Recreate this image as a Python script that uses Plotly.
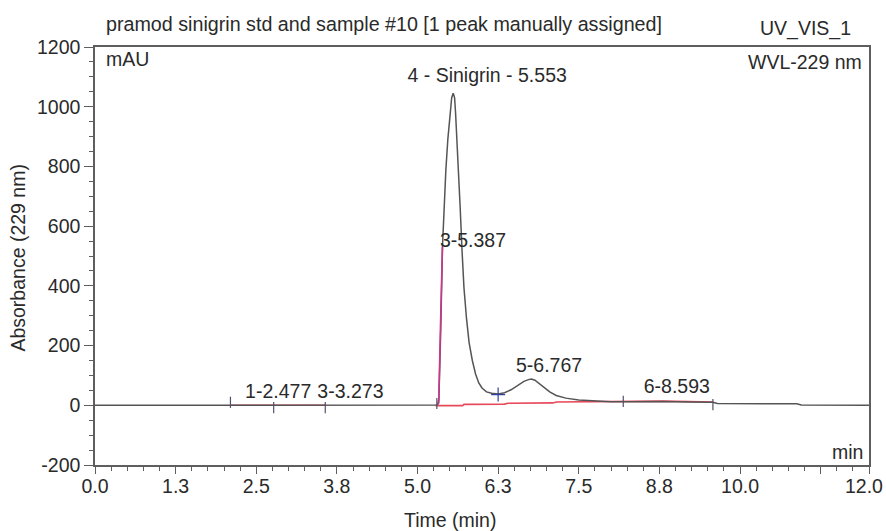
import plotly.graph_objects as go

# Chromatogram trace (time in min, absorbance in mAU)
time_min = [0.0, 1.0, 2.0, 2.5, 3.0, 3.5, 4.0, 4.5, 5.0, 5.25, 5.30, 5.33, 5.345, 5.36, 5.387,
            5.41, 5.44, 5.47, 5.50, 5.53, 5.553, 5.575, 5.59, 5.61, 5.635, 5.66, 5.69, 5.72,
            5.76, 5.80, 5.85, 5.90, 5.95, 6.00, 6.07, 6.15, 6.25, 6.35, 6.45, 6.55, 6.65,
            6.72, 6.767, 6.82, 6.88, 6.95, 7.05, 7.15, 7.30, 7.50, 7.75, 8.00, 8.30, 8.60,
            8.80, 9.20, 9.58, 9.65, 10.88, 10.95, 12.0]
absorbance = [0, 0, 0, 1, 1, 0, 0, 0, 0, 0, 1, 8, 120, 250, 530,
              660, 790, 890, 975, 1030, 1045, 1030, 980, 900, 800, 670, 520, 395,
              290, 210, 150, 105, 75, 58, 45, 40, 38, 42, 52, 66, 80,
              86, 88, 84, 74, 62, 45, 33, 24, 18, 14, 12, 12, 13,
              13, 11, 10, 6, 5, 1, 0]

# Integration baselines (red)
base_t = [2.10, 2.77, 3.57, None, 5.28, 5.70, 5.72, 6.35, 6.40, 7.10, 7.15, 7.70, 8.20, 8.80, 9.58]
base_v = [0, 0, 0, None, -1, -1, 3, 4, 7, 8, 11, 12, 14, 14, 11]

# Peak 3 edge (magenta)
edge_t = [5.31, 5.33, 5.36, 5.387]
edge_v = [2, 20, 300, 530]

# Peak delimiters
delim_t = [2.10, 2.77, 3.57, 5.30, 8.19, 9.58]
delim_v = [10, -8, -8, 6, 13, 2]
valley_t = [6.25]
valley_v = [36]

# Peak labels
label_text = ["4 - Sinigrin - 5.553", "3-5.387", "5-6.767", "1-2.477", "3-3.273", "6-8.593"]
label_t = [6.08, 5.86, 7.04, 2.84, 3.96, 9.02]
label_v = [1098, 547, 128, 42, 42, 56]

# Axis ticks (the last label, 12.0, is drawn separately so it stays inside the page)
x_tickvals = [0.0, 1.25, 2.5, 3.75, 5.0, 6.25, 7.5, 8.75, 10.0, 11.25, 12.0]
x_ticktext = ["0.0", "1.3", "2.5", "3.8", "5.0", "6.3", "7.5", "8.8", "10.0", "", ""]
x_last_label = "12.0"
y_tickvals = [-200, 0, 200, 400, 600, 800, 1000, 1200]
y_ticktext = ["-200", "0", "200", "400", "600", "800", "1000", "1200"]

FONT = "Liberation Sans, Arial, sans-serif"
TXT = "#2a2a2a"
AX = "#5e5e5e"

fig = go.Figure()
fig.add_trace(go.Scatter(x=base_t, y=base_v, mode="lines",
                         line=dict(color="#e8495a", width=1.6), hoverinfo="skip"))
fig.add_trace(go.Scatter(x=time_min, y=absorbance, mode="lines",
                         line=dict(color="#555555", width=1.5)))
fig.add_trace(go.Scatter(x=edge_t, y=edge_v, mode="lines",
                         line=dict(color="#c8378a", width=1.6)))
fig.add_trace(go.Scatter(x=delim_t, y=delim_v, mode="markers",
                         marker=dict(symbol="line-ns", size=8, line=dict(color="#55506a", width=1.2))))
fig.add_trace(go.Scatter(x=valley_t, y=valley_v, mode="markers",
                         marker=dict(symbol="cross-thin", size=10, line=dict(color="#3040a0", width=1.2))))
fig.add_trace(go.Scatter(x=label_t, y=label_v, mode="text", text=label_text,
                         textposition="middle center",
                         textfont=dict(family=FONT, size=19.5, color=TXT)))

axis_common = dict(showline=True, linecolor=AX, linewidth=1.5, mirror=True,
                   ticks="outside", tickcolor=AX, tickwidth=1.2,
                   showgrid=False, zeroline=False, automargin=False,
                   ticklabeloverflow="allow",
                   tickfont=dict(family=FONT, size=19.5, color=TXT))

fig.update_xaxes(range=[0, 12], tickmode="array", tickvals=x_tickvals, ticktext=x_ticktext,
                 ticklen=7, ticklabelstandoff=-4,
                 minor=dict(dtick=0.25, tick0=0, ticks="outside", ticklen=4,
                            tickcolor=AX, showgrid=False),
                 **axis_common)
fig.update_yaxes(range=[-200, 1200], tickmode="array", tickvals=y_tickvals, ticktext=y_ticktext,
                 ticklen=9,
                 minor=dict(dtick=50, tick0=0, ticks="outside", ticklen=4,
                            tickcolor=AX, showgrid=False),
                 **axis_common)

# page-pixel positions of free texts
annots = [
    dict(text="pramod sinigrin std and sample #10 [1 peak manually assigned]", x=104, y=24,
         xanchor="left", size=19.7, angle=0),
    dict(text="UV_VIS_1", x=853, y=28, xanchor="right", size=19.5, angle=0),
    dict(text="mAU", x=104, y=59, xanchor="left", size=19.5, angle=0),
    dict(text="WVL-229 nm", x=864, y=62, xanchor="right", size=19.5, angle=0),
    dict(text="min", x=865, y=452, xanchor="right", size=19.5, angle=0),
    dict(text="Time (min)", x=450, y=520, xanchor="center", size=19.5, angle=0),
    dict(text="Absorbance (229 nm)", x=17, y=258, xanchor="center", size=19.5, angle=-90),
    dict(text=x_last_label, x=885, y=486, xanchor="right", size=19.5, angle=0),
]

W, H = 886, 531
# plot area in page pixels: x 94.5..869.3, y 47..465
L = 94.5
T = 47
R = W - 869.3
B = H - 465
ann_list = []
for a in annots:
    ann_list.append(dict(text=a["text"],
                         x=(a["x"] - L) / (W - L - R),
                         y=1 - (a["y"] - T) / (H - T - B),
                         xref="paper", yref="paper", showarrow=False,
                         xanchor=a["xanchor"], yanchor="middle", textangle=a["angle"],
                         font=dict(family=FONT, size=a["size"], color=TXT)))

fig.update_layout(width=W, height=H, margin=dict(l=L, r=R, t=T, b=B, autoexpand=False),
                  paper_bgcolor="white", plot_bgcolor="white", showlegend=False,
                  annotations=ann_list, font=dict(family=FONT, color=TXT))

fig.write_html("out.html", config={"displayModeBar": False},
               post_script="document.body.style.margin='0';document.body.style.overflow='hidden';")
